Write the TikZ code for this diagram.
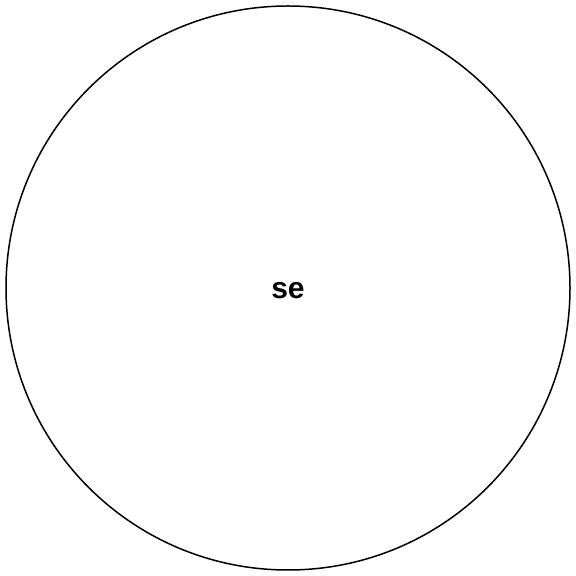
\documentclass[tikz,border=0pt]{standalone}
\usepackage{fontspec}
\setmainfont{Liberation Sans}
\usetikzlibrary{positioning}

\begin{document}
\begin{tikzpicture}[x=1pt, y=1pt,
state/.style={draw, circle, line width=1.5pt, minimum size=564pt, inner sep=0pt, text height=21pt, text depth=0pt, font=\fontsize{30}{36}\selectfont\bfseries}]

\useasboundingbox (0,0) rectangle (576,576);

\node[state] (se) at (288,288) {se};

\end{tikzpicture}
\end{document}
